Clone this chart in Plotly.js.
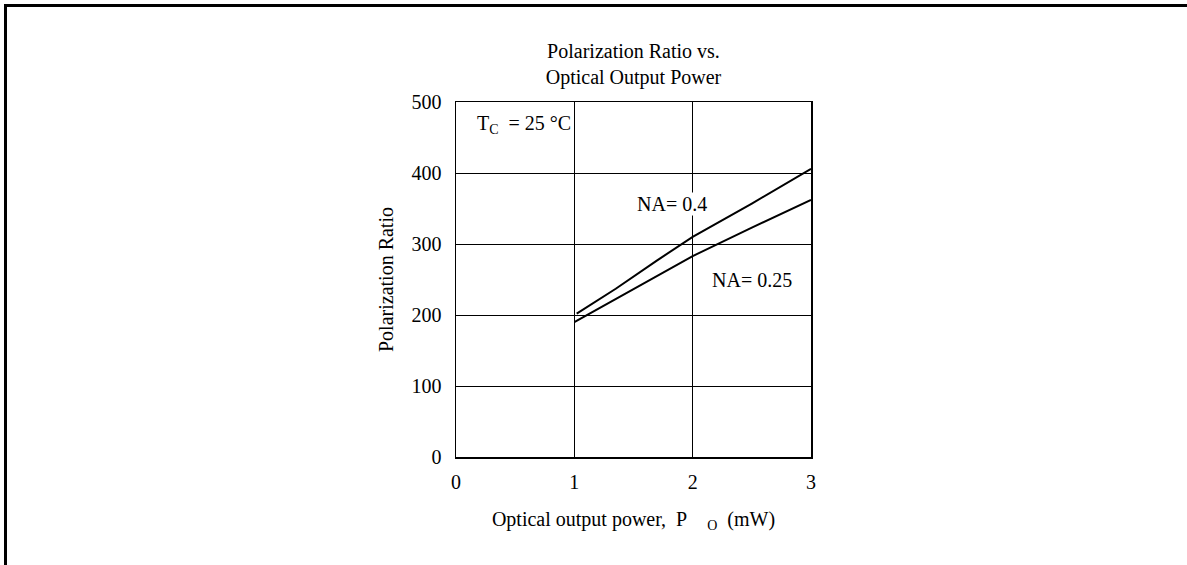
<!DOCTYPE html>
<html>
<head>
<meta charset="utf-8">
<script src="https://cdn.plot.ly/plotly-3.0.1.min.js"></script>
<style>
  html, body { margin: 0; padding: 0; background: #fff; }
  #wrap { position: relative; width: 1187px; height: 565px; }
  #chart { position: absolute; left: 0; top: 0; width: 1187px; height: 565px; }
  #frame { position: absolute; left: 4px; top: 4px; width: 1183px; height: 561px;
           border-left: 3px solid #000; border-top: 3px solid #000; pointer-events: none; box-sizing: border-box; }
</style>
</head>
<body>
<div id="wrap">
  <div id="chart"></div>
  <div id="frame"></div>
</div>
<script>
// Data
const na04_x = [1.02, 1.35, 1.7, 2.0, 2.5, 3.0];
const na04_y = [202, 237, 277, 310, 357, 406];
const na025_x = [1.0, 1.5, 2.0, 2.5, 3.0];
const na025_y = [190, 237, 283, 323, 362];
const xTicks = [0, 1, 2, 3];
const yTicks = [0, 100, 200, 300, 400, 500];

const FONT = "Liberation Serif, Times New Roman, serif";
const NB = "\u00A0";

const traces = [
  { x: na04_x, y: na04_y, mode: 'lines', name: 'NA= 0.4',
    line: { color: '#000', width: 2 }, hoverinfo: 'skip' },
  { x: na025_x, y: na025_y, mode: 'lines', name: 'NA= 0.25',
    line: { color: '#000', width: 2 }, hoverinfo: 'skip' }
];

const layout = {
  width: 1187, height: 565,
  margin: { l: 456, r: 376, t: 102, b: 108 },
  paper_bgcolor: '#fff', plot_bgcolor: '#fff',
  showlegend: false,
  font: { family: FONT, size: 20, color: '#000' },
  title: {
    text: 'Polarization Ratio vs.<br>Optical Output Power',
    font: { family: FONT, size: 20, color: '#000' },
    x: 0.5, xref: 'paper', xanchor: 'center',
    y: 1 - 58 / 565, yref: 'container', yanchor: 'top'
  },
  xaxis: {
    range: [0, 3], tickvals: xTicks, ticktext: xTicks.map(String),
    showgrid: true, gridcolor: '#000', gridwidth: 1,
    showline: true, linecolor: '#000', linewidth: 1.5, mirror: true,
    zeroline: false, ticks: '', ticklabelstandoff: 6,
    tickfont: { family: FONT, size: 20, color: '#000' },
    title: { text: 'Optical output power,' + NB + NB + 'P' + NB + NB + NB + NB + '<sub>O</sub>' + NB + NB + '(mW)',
             font: { family: FONT, size: 20, color: '#000' }, standoff: 20 }
  },
  yaxis: {
    range: [0, 500], tickvals: yTicks, ticktext: yTicks.map(String),
    showgrid: true, gridcolor: '#000', gridwidth: 1,
    showline: true, linecolor: '#000', linewidth: 1.5, mirror: true,
    zeroline: false, ticks: '', ticklabelstandoff: 9,
    tickfont: { family: FONT, size: 20, color: '#000' },
    title: { text: 'Polarization Ratio', font: { family: FONT, size: 20, color: '#000' }, standoff: 12 }
  },
  annotations: [
    { x: 0.16, y: 469, xref: 'x', yref: 'y', xanchor: 'left', yanchor: 'middle',
      text: 'T<sub>C</sub>' + NB + NB + '=' + NB + '25' + NB + '°C', showarrow: false,
      font: { family: FONT, size: 20, color: '#000' } },
    { x: 1.525, y: 356, xref: 'x', yref: 'y', xanchor: 'left', yanchor: 'middle',
      text: 'NA=' + NB + '0.4', showarrow: false, bgcolor: '#fff', borderpad: 0,
      font: { family: FONT, size: 20, color: '#000' } },
    { x: 2.143, y: 250, xref: 'x', yref: 'y', xanchor: 'left', yanchor: 'middle',
      text: 'NA=' + NB + '0.25', showarrow: false,
      font: { family: FONT, size: 20, color: '#000' } }
  ]
};

Plotly.newPlot('chart', traces, layout, { staticPlot: true, displayModeBar: false });
</script>
</body>
</html>
